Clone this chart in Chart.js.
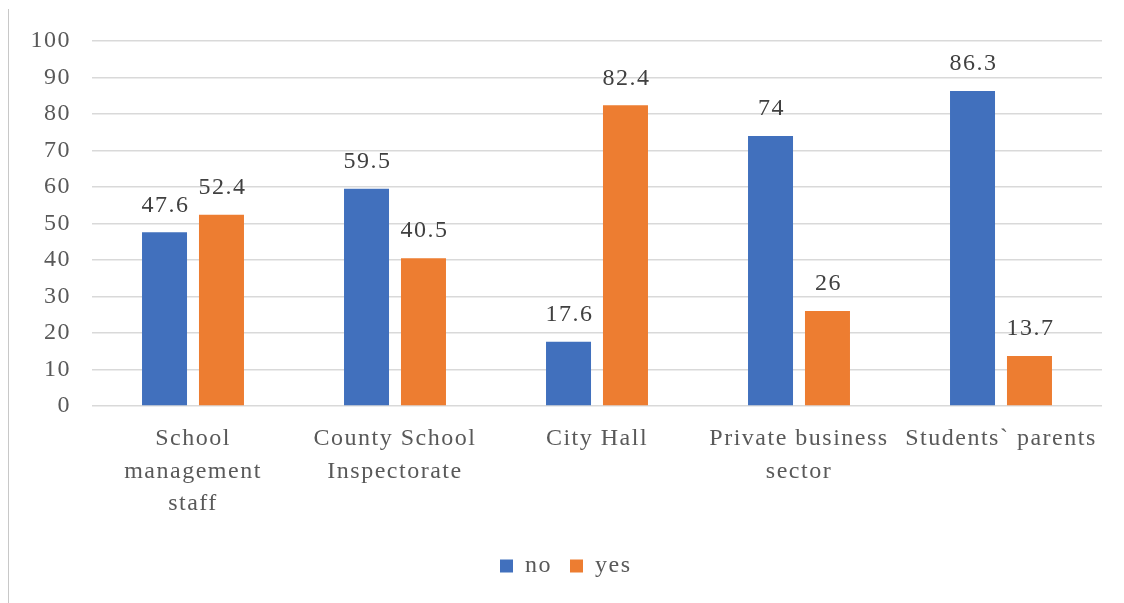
<!DOCTYPE html>
<html>
<head>
<meta charset="utf-8">
<script src="https://cdn.jsdelivr.net/npm/chart.js@4.4.1/dist/chart.umd.min.js"></script>
<style>
    html, body { margin: 0; padding: 0; background: #fff; }
    #wrap { position: relative; width: 1124px; height: 603px; }
    #frame { position: absolute; left: 8px; top: 9px; bottom: 0; border-left: 1px solid #c8c8c8; }
    canvas { position: absolute; left: 0; top: 0; }
</style>
</head>
<body>
<div id="wrap">
    <div id="frame"></div>
    <canvas id="chart" width="1124" height="603"></canvas>
</div>
<script>
// Data
const categories = [
    ['School', 'management', 'staff'],
    ['County School', 'Inspectorate'],
    ['City Hall'],
    ['Private business', 'sector'],
    ['Students` parents']
];
const noValues = [47.6, 59.5, 17.6, 74, 86.3];
const yesValues = [52.4, 40.5, 82.4, 26, 13.7];
const seriesNames = ['no', 'yes'];

const serif = "'Liberation Serif', 'DejaVu Serif', serif";
const textColor = '#595959';
const spacing = '1.5px';

// The reference text is set wide, so open up the letters a bit
const wideText = {
    id: 'wideText',
    beforeInit(chart) { chart.ctx.letterSpacing = spacing; },
    beforeDraw(chart) { chart.ctx.letterSpacing = spacing; }
};

// Value labels above every bar
const valueLabels = {
    id: 'valueLabels',
    afterDatasetsDraw(chart) {
        const ctx = chart.ctx;
        ctx.save();
        ctx.letterSpacing = spacing;
        ctx.font = '24px ' + serif;
        ctx.fillStyle = '#404040';
        ctx.textAlign = 'center';
        ctx.textBaseline = 'middle';
        chart.data.datasets.forEach((ds, i) => {
            chart.getDatasetMeta(i).data.forEach((bar, j) => {
                ctx.fillText(String(ds.data[j]), bar.x + 1, bar.y - 27);
            });
        });
        ctx.restore();
    }
};

const ctx = document.getElementById('chart').getContext('2d');
new Chart(ctx, {
    type: 'bar',
    data: {
        labels: categories,
        datasets: [{
            label: seriesNames[0],
            data: noValues,
            backgroundColor: '#4170BD'
        }, {
            label: seriesNames[1],
            data: yesValues,
            backgroundColor: '#ED7D31'
        }]
    },
    options: {
        responsive: false,
        animation: false,
        devicePixelRatio: 1,
        layout: { padding: { top: 41, right: 22, left: 22, bottom: 15 } },
        datasets: {
            bar: { categoryPercentage: 0.564, barPercentage: 0.79 }
        },
        scales: {
            x: {
                grid: { display: false },
                border: { display: false },
                ticks: {
                    color: textColor,
                    font: { family: serif, size: 24, lineHeight: 1.34 },
                    padding: 9,
                    maxRotation: 0,
                    autoSkip: false
                },
                afterFit(scale) { scale.height = 130; }
            },
            y: {
                min: 0,
                max: 100,
                ticks: {
                    stepSize: 10,
                    color: textColor,
                    font: { family: serif, size: 24 },
                    padding: 21
                },
                grid: { color: '#d9d9d9', lineWidth: 1.5, drawTicks: false },
                border: { display: false },
                afterFit(scale) { scale.width = 70; }
            }
        },
        plugins: {
            legend: {
                position: 'bottom',
                labels: {
                    color: textColor,
                    font: { family: serif, size: 24 },
                    boxWidth: 13,
                    boxHeight: 13,
                    padding: 18
                }
            },
            tooltip: { enabled: false }
        }
    },
    plugins: [wideText, valueLabels]
});
</script>
</body>
</html>
